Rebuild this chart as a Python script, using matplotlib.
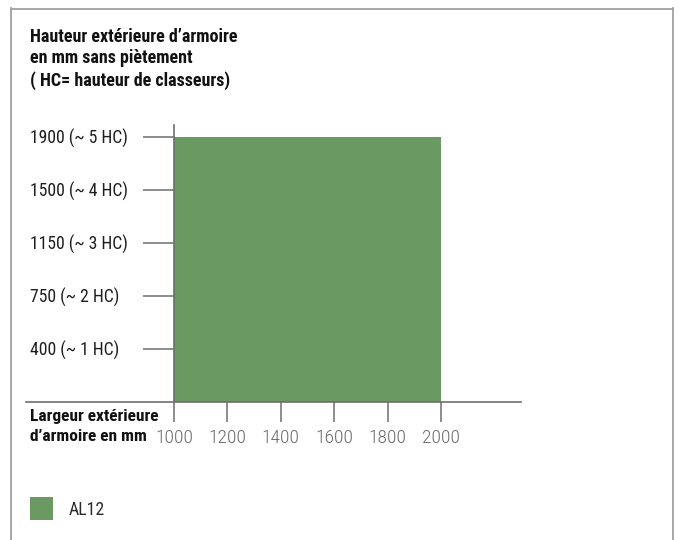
import matplotlib
matplotlib.use("Agg")
import matplotlib.pyplot as plt
from matplotlib.patches import Rectangle
from matplotlib.lines import Line2D
from matplotlib.transforms import blended_transform_factory, offset_copy

# Data
height_labels = ["400 (~ 1 HC)", "750 (~ 2 HC)", "1150 (~ 3 HC)", "1500 (~ 4 HC)", "1900 (~ 5 HC)"]
height_levels = [1, 2, 3, 4, 5]
width_ticks = [1000, 1200, 1400, 1600, 1800, 2000]
series_name = "AL12"
bar_width_min = 1000
bar_width_max = 2000
bar_height_level = 5

FAM = ["Roboto Condensed", "Liberation Sans Narrow", "Liberation Sans", "DejaVu Sans"]
plt.rcParams["font.family"] = FAM

GREEN = "#6b9962"
AXC = "#6e6e6e"

fig = plt.figure(figsize=(6.8, 5.4), dpi=100)
W, H = 680, 540

def fx(px):
    return px / W

def fy(py):
    return 1 - py / H

# frame
for xs, ys in [([11, 11], [8, 545]), ([11, 673], [8.5, 8.5]), ([673, 673], [8, 545])]:
    fig.add_artist(Line2D([fx(x) for x in xs], [fy(y) for y in ys], color="#a0a0a0", lw=1.3))

ax = fig.add_axes([fx(26), fy(401.7), fx(521) - fx(26), (401.7 - 125) / H])
ax.set_xlim(446, 2300)
ax.set_ylim(0, 5.22)

ax.bar([(bar_width_min + bar_width_max) / 2], [bar_height_level],
       width=bar_width_max - bar_width_min, color=GREEN, edgecolor="none", zorder=1)

for s in ["top", "right"]:
    ax.spines[s].set_visible(False)
ax.spines["left"].set_position(("data", 1000))
for s in ["left", "bottom"]:
    ax.spines[s].set_color(AXC)
    ax.spines[s].set_linewidth(1.2)
    ax.spines[s].set_zorder(3)

ax.set_yticks(height_levels)
ax.set_yticklabels([])
ax.tick_params(axis="y", direction="out", length=22, width=1.1, color=AXC)
ylab_tr = offset_copy(blended_transform_factory(fig.transFigure, ax.transData),
                      fig=fig, x=0, y=-2, units="dots")
for lvl, lab in zip(height_levels, height_labels):
    ax.text(fx(30), lvl, lab, transform=ylab_tr, fontsize=12.7, color="#1e1e1e",
            ha="left", va="center")

ax.set_xticks(width_ticks)
ax.set_xticklabels([str(v) for v in width_ticks], fontsize=14, color="#6a6a6a",
                   fontweight="light")
ax.tick_params(axis="x", direction="out", length=14.5, width=1.1, color=AXC, pad=5.5)
ax.patch.set_alpha(0)

# titles
fig.text(fx(30), fy(28), "Hauteur extérieure d’armoire\nen mm sans piètement\n( HC= hauteur de classeurs)",
         fontsize=13, fontweight="bold", color="#111111", va="top", ha="left", linespacing=1.24)
fig.text(fx(30), fy(408.5), "Largeur extérieure\nd’armoire en mm",
         fontsize=12.5, fontweight="bold", color="#111111", va="top", ha="left", linespacing=1.42)

# legend
fig.add_artist(Rectangle((fx(30), fy(520)), fx(53) - fx(30), (520 - 497) / H,
                         facecolor=GREEN, edgecolor="none", transform=fig.transFigure))
fig.text(fx(69), fy(510), series_name, fontsize=12.8, color="#2a2a2a", va="center", ha="left")

fig.savefig("out.png", dpi=100)
